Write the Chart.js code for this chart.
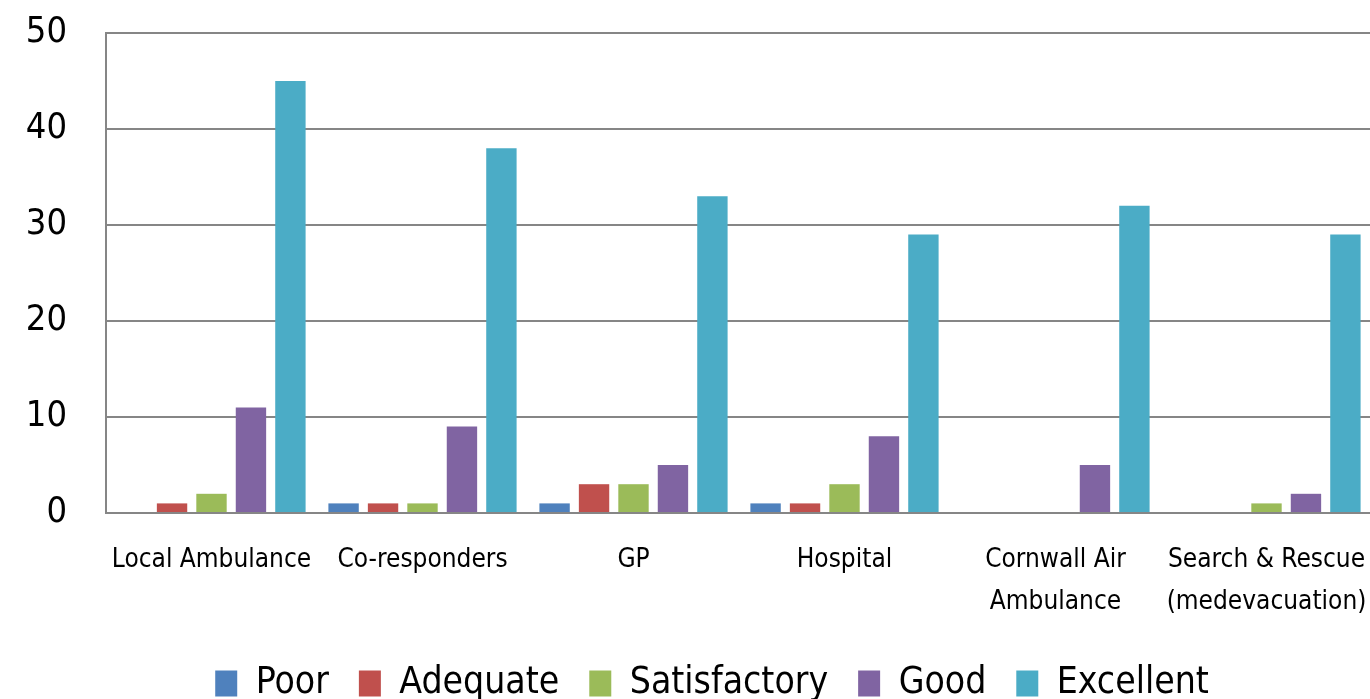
<!DOCTYPE html>
<html>
<head>
<meta charset="utf-8">
<title>Service ratings</title>
<script src="https://cdn.jsdelivr.net/npm/chart.js@4.4.1/dist/chart.umd.min.js"></script>
<style>
    html, body { margin: 0; padding: 0; background: #fff; overflow: hidden; }
    #wrap { width: 1424px; height: 699px; }
</style>
</head>
<body>
<div id="wrap"><canvas id="ratingsChart" width="1424" height="699"></canvas></div>
<script>
// Chart data
const categories = [
    'Local Ambulance',
    'Co-responders',
    'GP',
    'Hospital',
    ['Cornwall Air', 'Ambulance'],
    ['Search & Rescue', '(medevacuation)']
];
const poor = [0, 1, 1, 1, 0, 0];
const adequate = [1, 1, 3, 1, 0, 0];
const satisfactory = [2, 1, 3, 3, 0, 1];
const good = [11, 9, 5, 8, 5, 2];
const excellent = [45, 38, 33, 29, 32, 29];
const yTicks = [0, 10, 20, 30, 40, 50];

const fontFamily = '"DejaVu Sans Condensed", "DejaVu Sans", sans-serif';

document.addEventListener('DOMContentLoaded', function () {
    const ctx = document.getElementById('ratingsChart').getContext('2d');

    function series(label, data, color) {
        return {
            label: label,
            data: data,
            backgroundColor: color,
            borderWidth: 0,
            categoryPercentage: 0.935,
            barPercentage: 0.77
        };
    }

    new Chart(ctx, {
        type: 'bar',
        data: {
            labels: categories,
            datasets: [
                series('Poor', poor, '#4F81BD'),
                series('Adequate', adequate, '#C0504D'),
                series('Satisfactory', satisfactory, '#9BBB59'),
                series('Good', good, '#8064A2'),
                series('Excellent', excellent, '#4BACC6')
            ]
        },
        options: {
            responsive: false,
            animation: false,
            layout: { padding: { top: 33, left: 0, right: 0, bottom: -13 } },
            scales: {
                x: {
                    grid: { display: false, drawTicks: false },
                    border: { display: true, color: '#868686', width: 2 },
                    ticks: {
                        color: '#000',
                        padding: 26,
                        maxRotation: 0,
                        autoSkip: false,
                        font: { family: fontFamily, size: 26, lineHeight: 1.62 }
                    },
                    afterFit: function (scale) {
                        scale.height = 122;
                        scale.paddingLeft = 0;
                        scale.paddingRight = 0;
                    }
                },
                y: {
                    min: 0,
                    max: 50,
                    afterBuildTicks: function (scale) {
                        scale.ticks = yTicks.map(v => ({ value: v }));
                    },
                    grid: { color: '#868686', lineWidth: 2, drawTicks: false },
                    border: { display: true, color: '#868686', width: 2 },
                    ticks: {
                        color: '#000',
                        padding: 39,
                        font: { family: fontFamily, size: 36 }
                    },
                    afterFit: function (scale) {
                        scale.width = 106;
                        scale.paddingTop = 0;
                        scale.paddingBottom = 0;
                    }
                },
                // empty right axis, only keeps space right of the plot (the picture is cut there)
                yRight: {
                    position: 'right',
                    min: 0,
                    max: 50,
                    grid: { display: false, drawTicks: false },
                    border: { display: false },
                    ticks: { display: false },
                    afterFit: function (scale) {
                        scale.width = 52;
                        scale.paddingTop = 0;
                        scale.paddingBottom = 0;
                    }
                }
            },
            plugins: {
                tooltip: { enabled: false },
                legend: {
                    position: 'bottom',
                    labels: {
                        color: '#000',
                        boxWidth: 22,
                        boxHeight: 26,
                        padding: 30,
                        font: { family: fontFamily, size: 37 }
                    }
                }
            }
        }
    });
});
</script>
</body>
</html>
